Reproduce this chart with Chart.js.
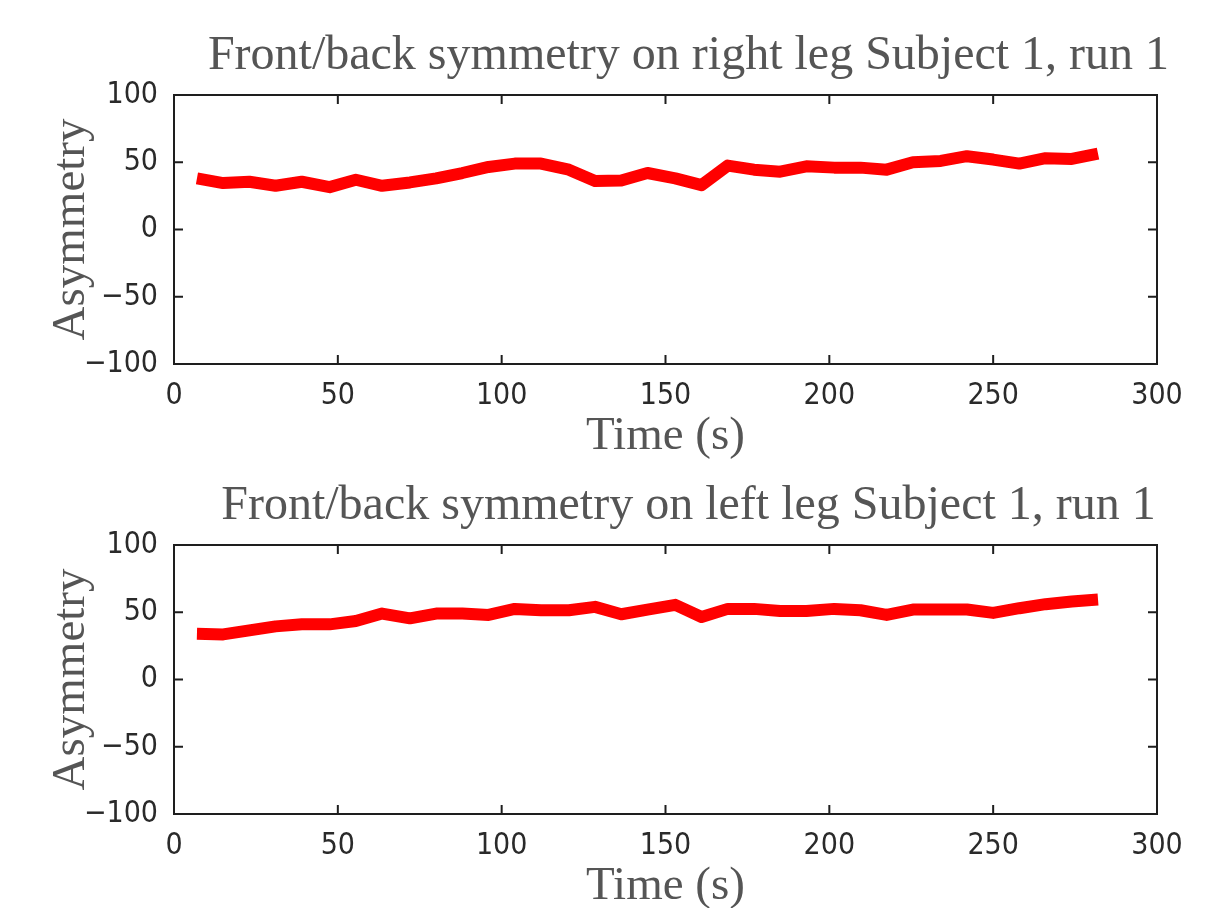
<!DOCTYPE html>
<html>
<head>
<meta charset="utf-8">
<script src="https://cdn.jsdelivr.net/npm/chart.js@4/dist/chart.umd.min.js"></script>
<style>
html, body { margin: 0; padding: 0; background: #fff; overflow: hidden; }
.panel { position: absolute; left: 0; width: 1218px; height: 488px; }
</style>
</head>
<body>
<div class="panel" style="top:0"><canvas id="rightLeg"></canvas></div>
<div class="panel" style="top:450px"><canvas id="leftLeg"></canvas></div>
<script>
// sample times (s)
var times = [7, 15, 23, 31, 39, 47.5, 55.5, 63.5, 72, 80, 88, 96, 104, 112, 120.5, 128.5, 136.5, 144.5,
             153, 161, 169, 177, 185, 193, 201.5, 209.5, 217.5, 225.5, 234, 242, 250, 258, 266, 274, 282];

// front/back asymmetry, right leg
var rightLeg = [38, 34.5, 35.5, 32.5, 35.5, 31.5, 37, 32.5, 35, 38, 42, 46.5, 49, 49, 44.5, 36, 36.5, 42,
                38, 33, 47.5, 44.5, 43, 47, 46, 46, 44.5, 50, 51, 54.5, 52, 49, 53, 52.5, 56.5];

// front/back asymmetry, left leg
var leftLeg = [34, 33.5, 36.5, 39.5, 41, 41, 43.5, 49, 45.5, 49, 49, 48, 52.5, 51.5, 51.5, 54, 48.5, 52,
               55.5, 46.5, 52.5, 52.5, 51, 51, 52.5, 51.5, 48, 52, 52, 52, 49.5, 53, 56, 58, 59.5];

var xTicks = [0, 50, 100, 150, 200, 250, 300];
var yTicks = [-100, -50, 0, 50, 100];

var titleFont = '"Liberation Serif", "Times New Roman", serif';
var tickFont = '"Liberation Sans Narrow", "DejaVu Sans Condensed", sans-serif';

// matlab style box: full frame, inward ticks, title above the axes
var matlabBox = {
  id: 'matlabBox',
  afterDraw: function(chart, args, opts) {
    var ctx = chart.ctx;
    var a = chart.chartArea;
    var xs = chart.scales.x, ys = chart.scales.y;
    ctx.save();
    ctx.strokeStyle = '#1e1e1e';
    ctx.lineWidth = 2;
    ctx.strokeRect(a.left, a.top, a.right - a.left, a.bottom - a.top);
    ctx.beginPath();
    xs.ticks.forEach(function(t) {
      var px = xs.getPixelForValue(t.value);
      ctx.moveTo(px, a.bottom); ctx.lineTo(px, a.bottom - 9);
      ctx.moveTo(px, a.top); ctx.lineTo(px, a.top + 9);
    });
    ys.ticks.forEach(function(t) {
      var py = ys.getPixelForValue(t.value);
      ctx.moveTo(a.left, py); ctx.lineTo(a.left + 9, py);
      ctx.moveTo(a.right, py); ctx.lineTo(a.right - 9, py);
    });
    ctx.stroke();

    ctx.fillStyle = '#555';
    ctx.font = '48px ' + titleFont;
    ctx.textAlign = 'center';
    ctx.textBaseline = 'middle';
    ctx.fillText(opts.text, (a.left + a.right) / 2 + 23, a.top - 39);
    ctx.restore();
  }
};

function makeChart(id, title, values) {
  var points = [];
  for (var i = 0; i < times.length; i++) {
    points.push({ x: times[i], y: values[i] });
  }
  return new Chart(document.getElementById(id), {
    type: 'line',
    data: {
      datasets: [{
        data: points,
        borderColor: '#ff0000',
        borderWidth: 12,
        borderCapStyle: 'butt',
        borderJoinStyle: 'round',
        pointRadius: 0,
        tension: 0,
        fill: false
      }]
    },
    options: {
      responsive: true,
      maintainAspectRatio: false,
      animation: false,
      layout: { padding: { top: 95, right: 61, bottom: 0, left: 0 } },
      plugins: {
        legend: { display: false },
        tooltip: { enabled: false },
        title: { display: false },
        matlabBox: { text: title }
      },
      scales: {
        x: {
          type: 'linear',
          min: 0,
          max: 300,
          afterBuildTicks: function(scale) {
            scale.ticks = xTicks.map(function(v) { return { value: v }; });
          },
          afterFit: function(scale) { scale.height = 124; },
          grid: { display: false },
          border: { display: false },
          ticks: {
            padding: 6,
            color: '#2a2a2a',
            font: { family: tickFont, size: 30 }
          },
          title: {
            display: true,
            text: 'Time (s)',
            color: '#555',
            font: { family: titleFont, size: 47 },
            padding: { top: 0, bottom: 23 }
          }
        },
        y: {
          min: -100,
          max: 100,
          afterBuildTicks: function(scale) {
            scale.ticks = yTicks.map(function(v) { return { value: v }; });
          },
          afterFit: function(scale) { scale.width = 174; },
          grid: { display: false },
          border: { display: false },
          ticks: {
            padding: 8,
            color: '#2a2a2a',
            font: { family: tickFont, size: 30 },
            callback: function(v) { return String(v).replace('-', '\u2212'); }
          },
          title: {
            display: true,
            text: 'Asymmetry',
            color: '#555',
            font: { family: titleFont, size: 47 },
            padding: { top: 43, bottom: 0 }
          }
        }
      }
    },
    plugins: [matlabBox]
  });
}

makeChart('rightLeg', 'Front/back symmetry on right leg Subject 1, run 1', rightLeg);
makeChart('leftLeg', 'Front/back symmetry on left leg Subject 1, run 1', leftLeg);
</script>
</body>
</html>
